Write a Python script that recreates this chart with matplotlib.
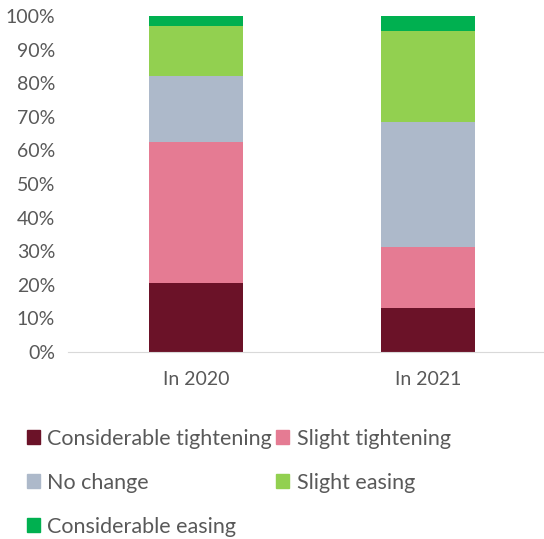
import numpy as np
import matplotlib
matplotlib.use("Agg")
import matplotlib.pyplot as plt
from matplotlib.patches import Patch
from matplotlib.ticker import PercentFormatter

CATEGORIES = ["In 2020", "In 2021"]
SERIES = ["Considerable tightening", "Slight tightening", "No change",
          "Slight easing", "Considerable easing"]
CONS_TIGHT = [20.5, 13.0]
SLIGHT_TIGHT = [42.1, 18.2]
NO_CHANGE = [19.4, 37.3]
SLIGHT_EASE = [15.0, 27.0]
CONS_EASE = [3.0, 4.5]
COLORS = ["#6B1228", "#E57B93", "#ADB9CA", "#92D050", "#00B050"]

plt.rcParams["font.family"] = ["Lato", "DejaVu Sans"]
TXT = "#595959"

fig = plt.figure(figsize=(5.44, 5.39), dpi=100)
ax = fig.add_axes([80 / 544, 1 - 352 / 539, 464 / 544, 336 / 539])

x = np.arange(len(CATEGORIES))
bottom = np.zeros(len(CATEGORIES))
for vals, color, name in zip([CONS_TIGHT, SLIGHT_TIGHT, NO_CHANGE, SLIGHT_EASE, CONS_EASE],
                             COLORS, SERIES):
    v = np.array(vals) / 100
    ax.bar(x, v, 0.405, bottom=bottom, color=color, label=name, zorder=2)
    bottom += v

ax.set_xlim(-0.5, 1.5)
ax.set_ylim(0, 1)
ax.set_yticks(np.arange(0, 1.01, 0.1))
ax.yaxis.set_major_formatter(PercentFormatter(1.0, decimals=0))
ax.set_xticks(x)
ax.set_xticklabels(CATEGORIES)
ax.tick_params(axis="both", length=0, labelsize=14, colors=TXT)
ax.tick_params(axis="y", pad=18)
ax.tick_params(axis="x", pad=14)
for s in ["top", "right", "left"]:
    ax.spines[s].set_visible(False)
ax.spines["bottom"].set_color("#D9D9D9")
ax.spines["bottom"].set_bounds(-0.55, 1.5)
ax.spines["bottom"].set_clip_on(False)

# legend rows: CT | ST ; NC | SE ; CE
order = [0, 2, 4, 1, 3]
handles = [Patch(color=COLORS[i], label=SERIES[i]) for i in order]
fig.legend(handles=handles, ncol=2, loc="upper left", bbox_to_anchor=(18 / 544, 1 - 420 / 539),
           frameon=False, fontsize=15.5, labelcolor=TXT, handlelength=0.6, handleheight=0.6,
           handletextpad=0.35, columnspacing=0.2, labelspacing=1.12, borderaxespad=0)

fig.savefig("out.png", dpi=100)
